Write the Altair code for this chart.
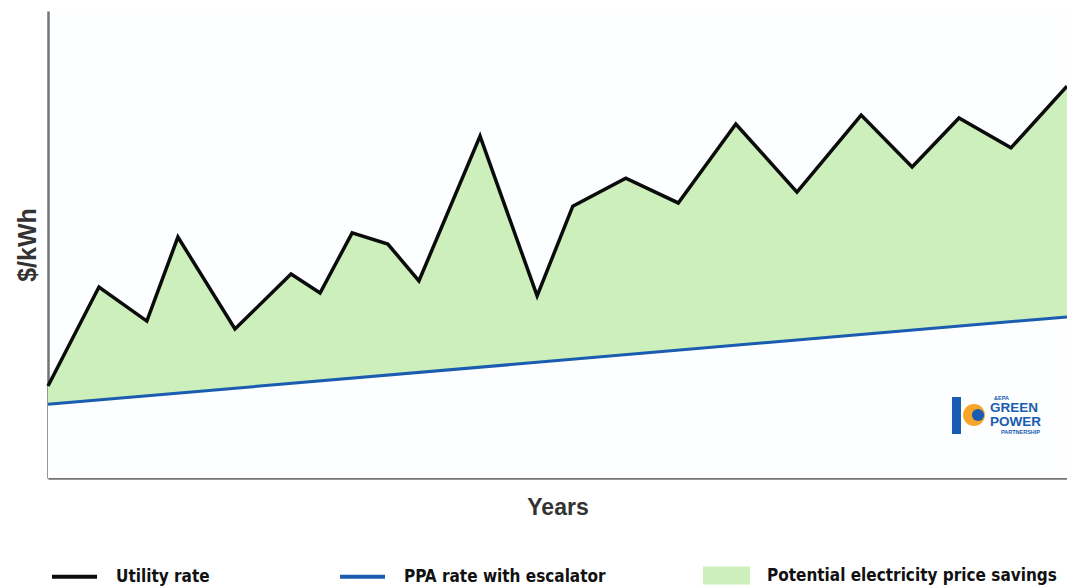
import altair as alt
import pandas as pd

# ---- data ----
years = [0, 1.00, 1.94, 2.55, 3.67, 4.77, 5.34, 5.97, 6.67, 7.28, 8.48,
         9.60, 10.30, 11.34, 12.37, 13.50, 14.70, 15.96, 16.96, 17.88, 18.90, 20.00]
utility = [1.97, 4.09, 3.36, 5.16, 3.19, 4.37, 3.96, 5.25, 5.01, 4.22, 7.32,
           3.90, 5.82, 6.42, 5.89, 7.58, 6.12, 7.77, 6.66, 7.71, 7.07, 8.39]
ppa_years = [0, 20]
ppa = [1.58, 3.45]

series_names = ["Utility rate", "PPA rate with escalator"]
series_colors = ["#0b0b0b", "#1a5cb0"]
savings_name = "Potential electricity price savings"
savings_color = "#ccefbb"
bg = "#fcfeff"

util_df = pd.DataFrame({"year": years, "rate": utility, "series": series_names[0], "fillname": savings_name})
ppa_df = pd.DataFrame({"year": ppa_years, "rate": ppa, "series": series_names[1]})

X = alt.X("year:Q", scale=alt.Scale(domain=[0, 20], nice=False, zero=False),
          axis=alt.Axis(title="Years", labels=False, ticks=False, grid=False,
                        domainColor="#737373", domainWidth=2.5,
                        titleFont="Liberation Sans", titleFontSize=23, titleFontWeight="bold",
                        titleColor="#333333", titlePadding=18))
Y = alt.Y("rate:Q", scale=alt.Scale(domain=[0, 10], nice=False),
          axis=alt.Axis(title="$/kWh", labels=False, ticks=False, grid=False,
                        domainColor="#737373", domainWidth=2.5,
                        titleFont="Liberation Sans", titleFontSize=25, titleFontWeight="bold",
                        titleColor="#333333", titlePadding=8))

legend_font = "'Liberation Sans Narrow', 'DejaVu Sans Condensed', Roboto, sans-serif"
legend_common = dict(orient="none", direction="horizontal", title=None, padding=0,
                     labelFont=legend_font, labelFontSize=17, labelFontWeight="bold",
                     labelColor="#111111", labelLimit=500, labelBaseline="middle")

savings = alt.Chart(util_df).mark_area(opacity=1).encode(
    x=X, y=Y,
    fill=alt.Fill("fillname:N", scale=alt.Scale(domain=[savings_name], range=[savings_color]),
                  legend=alt.Legend(legendX=655, legendY=541, symbolType="M-1,-0.38H1V0.38H-1Z",
                                    symbolSize=2209, symbolStrokeWidth=0, symbolOpacity=1,
                                    labelOffset=17, **legend_common)),
)

under_ppa = alt.Chart(ppa_df).mark_area(color=bg, opacity=1).encode(x="year:Q", y="rate:Q")

stroke_scale = alt.Scale(domain=series_names, range=series_colors)
stroke_legend = alt.Legend(legendX=2, legendY=541, symbolType="stroke", symbolSize=2025,
                           symbolStrokeWidth=4, labelOffset=17, columnPadding=122, **legend_common)

util_line = alt.Chart(util_df).mark_line(strokeWidth=3.5, strokeJoin="miter").encode(
    x="year:Q", y="rate:Q",
    stroke=alt.Stroke("series:N", scale=stroke_scale, legend=stroke_legend),
)
ppa_line = alt.Chart(ppa_df).mark_line(strokeWidth=3).encode(
    x="year:Q", y="rate:Q",
    stroke=alt.Stroke("series:N", scale=stroke_scale, legend=stroke_legend),
)

# ---- logo (decorative) ----
logo_df = pd.DataFrame({"k": [0]})
logo_block = alt.Chart(logo_df).mark_rect(color="#1a5cb0").encode(
    x=alt.value(904), x2=alt.value(913), y=alt.value(386), y2=alt.value(423))
logo_sun = alt.Chart(logo_df).mark_point(filled=True, color="#f4a52a", size=480, opacity=1).encode(
    x=alt.value(926), y=alt.value(404))
logo_sun_in = alt.Chart(logo_df).mark_point(filled=True, color="#1a5cb0", size=150, opacity=1).encode(
    x=alt.value(930), y=alt.value(404))
logo_text = dict(font="Liberation Sans", fontWeight="bold", color="#1a5cb0", align="left", baseline="middle")
logo_green = alt.Chart(logo_df).mark_text(text="GREEN", fontSize=13.5, **logo_text).encode(
    x=alt.value(942), y=alt.value(397))
logo_power = alt.Chart(logo_df).mark_text(text="POWER", fontSize=13.5, **logo_text).encode(
    x=alt.value(942), y=alt.value(411))
logo_part = alt.Chart(logo_df).mark_text(text="PARTNERSHIP", fontSize=5.5, **logo_text).encode(
    x=alt.value(953), y=alt.value(421))
logo_epa = alt.Chart(logo_df).mark_text(text="&EPA", fontSize=5.5, **logo_text).encode(
    x=alt.value(946), y=alt.value(387))

chart = alt.layer(
    savings, under_ppa, util_line, ppa_line,
    logo_block, logo_sun, logo_sun_in, logo_green, logo_power, logo_part, logo_epa,
).resolve_scale(x="shared", y="shared").properties(
    width=1019, height=467,
    autosize=alt.AutoSizeParams(type="none"),
    padding={"left": 48, "top": 11, "right": 0, "bottom": 109},
    background="white",
).configure_view(fill=bg, stroke=None)

chart.save("out.html", embed_options={"renderer": "svg", "actions": False})
